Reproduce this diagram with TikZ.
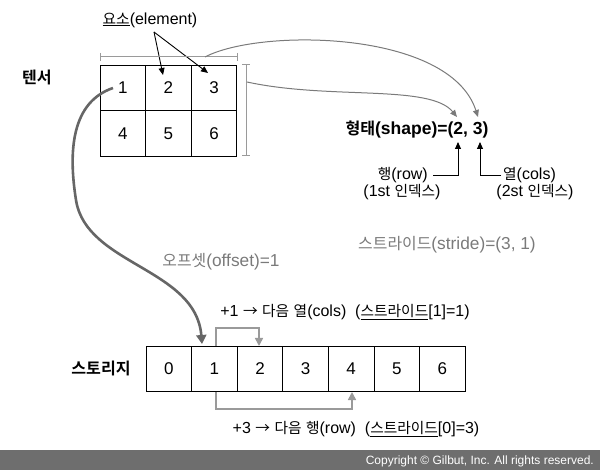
\documentclass[tikz,border=0pt]{standalone}
\usepackage{fontspec}
\setmainfont{Liberation Sans}
\newfontfamily\kofont{Noto Sans CJK KR}[Scale=0.92, BoldFont={Noto Sans CJK KR Bold}]
\newcommand\hk[1]{{\kofont #1}}
\usetikzlibrary{arrows.meta}
\definecolor{curvegray}{HTML}{7A7A7A}
\definecolor{stridegray}{HTML}{9A9A9A}
\definecolor{offgray}{HTML}{666666}
\definecolor{bargray}{HTML}{6E6E6E}
\definecolor{txtgray}{HTML}{7A7A7A}
\begin{document}
\begin{tikzpicture}[x=1pt,y=-1pt,
  cell/.style={draw, line width=1pt, minimum width=45.6pt, minimum height=45.6pt, inner sep=0pt, font=\fontsize{17}{17}\selectfont},
  lab/.style={inner sep=0pt, font=\fontsize{16}{16}\selectfont},
  boldlab/.style={inner sep=0pt, font=\fontsize{17.5}{17.5}\selectfont\bfseries},
  graylab/.style={inner sep=0pt, text=txtgray, font=\fontsize{17.3}{17.3}\selectfont},
  bracket/.style={draw=stridegray, line width=1pt},
  gcurve/.style={draw=curvegray, line width=1pt, -{Triangle[length=7pt,width=6pt]}},
  strideline/.style={draw=stridegray, line width=1.6pt, -{Triangle[length=8pt,width=8pt]}},
  offarrow/.style={draw=offgray, line width=2.6pt, -{Triangle[length=9pt,width=10pt]}},
  blackarrow/.style={draw=black, line width=0.9pt, -{Triangle[length=7pt,width=6pt]}}
]
\useasboundingbox (0,0) rectangle (600,470);

% tensor grid
\node[cell] (t11) at (122.8,88) {1};
\node[cell] (t12) at (168.4,88) {2};
\node[cell] (t13) at (214.0,88) {3};
\node[cell] (t21) at (122.8,133.6) {4};
\node[cell] (t22) at (168.4,133.6) {5};
\node[cell] (t23) at (214.0,133.6) {6};

\node[boldlab] (tensor) at (37,77) {\hk{텐서}};

% element label
\node[lab] (elem) at (150,20) {\underline{\hk{요소}}(element)};
\coordinate (e0) at (154,32);
\coordinate (e1) at (163,75);
\coordinate (e2) at (208,73);
\draw[blackarrow] (e0) -- (e1);
\draw[blackarrow] (e0) -- (e2);

% brackets
\coordinate (tbl) at (100,57);
\coordinate (tbr) at (237,57);
\draw[bracket] (tbl) -- (tbr);
\draw[bracket] (100,53) -- (100,61);
\draw[bracket] (237,53) -- (237,61);
\coordinate (rbt) at (246,65);
\coordinate (rbb) at (246,156);
\draw[bracket] (rbt) -- (rbb);
\draw[bracket] (242,65) -- (250,65);
\draw[bracket] (242,156) -- (250,156);

% shape label
\node[boldlab] (shape) at (417,130) {\hk{형태}(shape)=(2, 3)};
\coordinate (topstart) at (205,57);
\coordinate (rightstart) at (247,82);
\coordinate (tip2) at (457,117);
\coordinate (tip3) at (478,117);
\draw[gcurve] (topstart) .. controls (260,28) and (450,30) .. (tip3);
\draw[gcurve] (rightstart) .. controls (330,100) and (430,84) .. (tip2);

% row/cols
\node[lab, anchor=east] (row) at (428,175) {\hk{행}(row)};
\node[lab] (rowidx) at (402,192) {(1st \hk{인덱스})};
\node[lab, anchor=west] (cols) at (503,175) {\hk{열}(cols)};
\node[lab] (colidx) at (535,192) {(2st \hk{인덱스})};
\coordinate (up2) at (458,142);
\coordinate (up3) at (480,142);
\draw[blackarrow] ([xshift=5pt]row.east) -| (up2);
\draw[blackarrow] ([xshift=-2pt]cols.west) -| (up3);

% stride / offset labels
\node[graylab] (stride) at (447,245) {\hk{스트라이드}(stride)=(3, 1)};
\node[graylab] (offset) at (221,262) {\hk{오프셋}(offset)=1};

% storage
\node[boldlab] (storage) at (101,368) {\hk{스토리지}};
\node[cell] (s0) at (168.8,369) {0};
\node[cell] (s1) at (214.4,369) {1};
\node[cell] (s2) at (260.0,369) {2};
\node[cell] (s3) at (305.6,369) {3};
\node[cell] (s4) at (351.2,369) {4};
\node[cell] (s5) at (396.8,369) {5};
\node[cell] (s6) at (442.4,369) {6};

% offset arrow
\coordinate (offstart) at (113,88);
\coordinate (offmid) at (76,200);
\coordinate (offend) at (202,344);
\draw[offarrow] (offstart) .. controls (72,102) and (68,150) .. (offmid) .. controls (86,265) and (196,268) .. (offend);

% stride arrows
\coordinate (c1a) at (216,346);
\coordinate (c1b) at (259,346);
\draw[strideline] (c1a) -- (216,328) -| (c1b);
\coordinate (r1a) at (216,392);
\coordinate (r1b) at (352,392);
\draw[strideline] (r1a) -- (216,409) -| (r1b);

\node[lab] (plus1) at (345,312) {+1 \hk{→} \hk{다음} \hk{열}(cols)\ \ (\underline{\hk{스트라이드}}[1]=1)};
\node[lab] (plus3) at (356,429) {+3 \hk{→} \hk{다음} \hk{행}(row)\ \ (\underline{\hk{스트라이드}}[0]=3)};

% copyright bar
\fill[bargray] (0,450) rectangle (600,470);
\node[inner sep=0pt, anchor=east, text=white, font=\fontsize{12}{12}\selectfont] (copy) at (594,461) {Copyright © Gilbut, Inc. All rights reserved.};
\end{tikzpicture}
\end{document}
